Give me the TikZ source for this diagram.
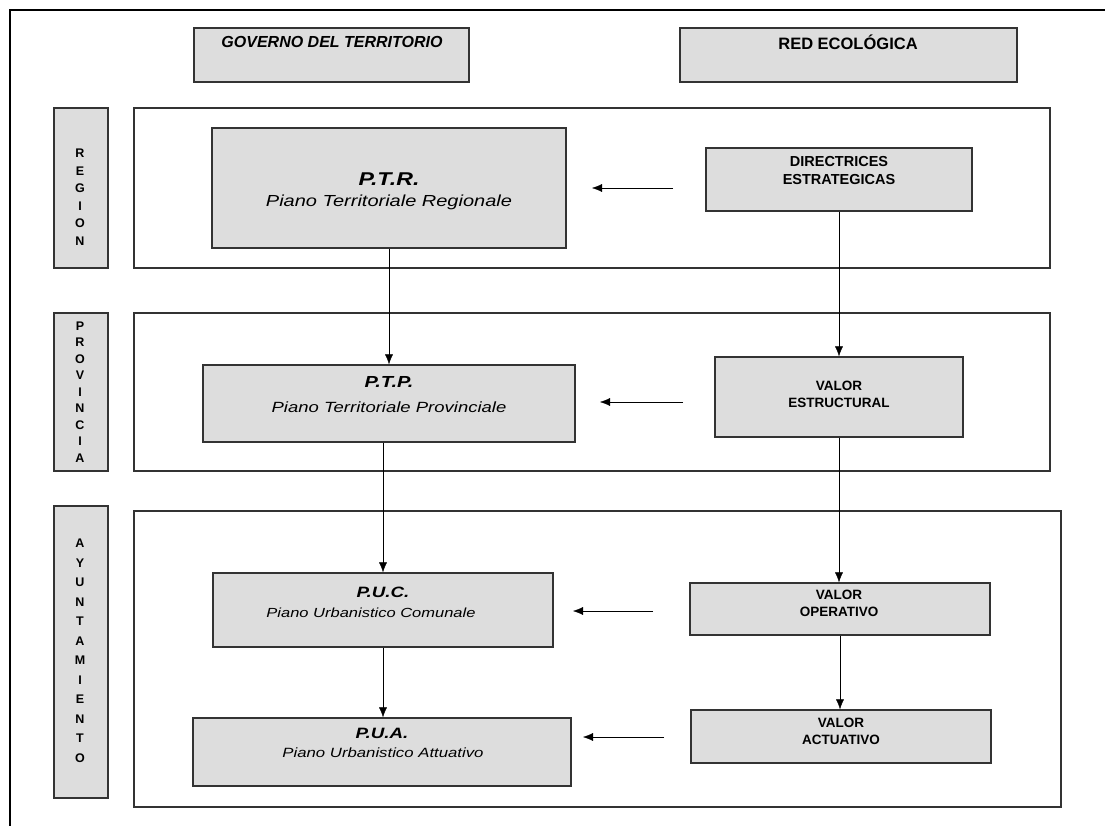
\documentclass[tikz,border=0pt]{standalone}
\usepackage{fontspec}
\setmainfont{Liberation Sans}
\newfontfamily\wideface[FakeStretch=1.25]{Liberation Sans}
\usetikzlibrary{arrows.meta}
\definecolor{boxgray}{HTML}{DDDDDD}
\definecolor{edgegray}{HTML}{333333}

\begin{document}
\begin{tikzpicture}[x=1pt,y=-1pt,>={Latex[length=10pt,width=8pt]},
		box/.style={rectangle,draw=edgegray,line width=1.3pt,fill=boxgray,inner sep=0pt},
		band/.style={rectangle,draw=edgegray,line width=1.3pt,fill=white,inner sep=0pt},
		head/.style={font=\bfseries\fontsize{16.5}{19}\selectfont},
		vlab/.style={align=center,inner sep=0pt},
		title/.style={font=\wideface\bfseries\itshape\fontsize{16}{19}\selectfont},
		subt/.style={font=\wideface\itshape\fontsize{14}{17}\selectfont},
		val/.style={align=center,font=\bfseries\fontsize{13.5}{17}\selectfont}]
		\useasboundingbox (0,0) rectangle (1105,826);
		\draw[line width=2.8pt] (10,826) -- (10,10) -- (1105,10);
		
		% headers
		\node[box,minimum width=275pt,minimum height=54pt] (gov) at (331.5,55) {};
		\node[box,minimum width=337pt,minimum height=54pt] (red) at (848.5,55) {};
		\node[head,font=\bfseries\itshape\fontsize{16}{19}\selectfont] (govtxt) at (332,42) {GOVERNO DEL TERRITORIO};
		\node[head] (redtxt) at (848,42) {RED ECOLÓGICA};
		
		% bands
		\node[band,minimum width=916pt,minimum height=160pt] (reg) at (592,188) {};
		\node[band,minimum width=916pt,minimum height=158pt] (prov) at (592,392) {};
		\node[band,minimum width=927pt,minimum height=296pt] (ayun) at (597.5,659) {};
		\node[box,minimum width=54pt,minimum height=160pt] (reglab) at (81,188) {};
		\node[box,minimum width=54pt,minimum height=158pt] (provlab) at (81,392) {};
		\node[box,minimum width=54pt,minimum height=292pt] (ayunlab) at (81,652) {};
		\node[vlab,font=\bfseries\fontsize{12.5}{17.5}\selectfont] (regtxt) at (80,197) {R\\E\\G\\I\\O\\N};
		\node[vlab,font=\bfseries\fontsize{12.5}{16.5}\selectfont] (provtxt) at (80,392) {P\\R\\O\\V\\I\\N\\C\\I\\A};
		\node[vlab,font=\bfseries\fontsize{12.5}{19.5}\selectfont] (ayuntxt) at (80,651) {A\\Y\\U\\N\\T\\A\\M\\I\\E\\N\\T\\O};
		
		% governo del territorio
		\node[box,minimum width=354pt,minimum height=120pt] (ptr) at (389,188) {};
		\node[box,minimum width=372pt,minimum height=77pt] (ptp) at (389,403.5) {};
		\node[box,minimum width=340pt,minimum height=74pt] (puc) at (383,610) {};
		\node[box,minimum width=378pt,minimum height=68pt] (pua) at (382,752) {};
		\node[title,font=\wideface\bfseries\itshape\fontsize{18.5}{21}\selectfont] (ptrt) at (389,179) {P.T.R.};
		\node[subt,font=\wideface\itshape\fontsize{16}{19}\selectfont] (ptrs) at (389,202) {Piano Territoriale Regionale};
		\node[title] (ptpt) at (389,382) {P.T.P.};
		\node[subt,font=\wideface\itshape\fontsize{14.8}{18}\selectfont] (ptps) at (389,407) {Piano Territoriale Provinciale};
		\node[title,font=\wideface\bfseries\itshape\fontsize{15}{18}\selectfont] (puct) at (383,592) {P.U.C.};
		\node[subt,font=\wideface\itshape\fontsize{13.2}{16}\selectfont] (pucs) at (371,613) {Piano Urbanistico Comunale};
		\node[title,font=\wideface\bfseries\itshape\fontsize{15}{18}\selectfont] (puat) at (382,733) {P.U.A.};
		\node[subt,font=\wideface\itshape\fontsize{13.4}{16}\selectfont] (puas) at (383,753) {Piano Urbanistico Attuativo};
		
		% red ecologica
		\node[box,minimum width=266pt,minimum height=63pt] (dir) at (839,179.5) {};
		\node[box,minimum width=248pt,minimum height=80pt] (estr) at (839,397) {};
		\node[box,minimum width=300pt,minimum height=52pt] (oper) at (840,609) {};
		\node[box,minimum width=300pt,minimum height=53pt] (act) at (841,736.5) {};
		\node[val,font=\bfseries\fontsize{14.5}{18}\selectfont] (dirtxt) at (839,171) {DIRECTRICES\\ESTRATEGICAS};
		\node[val] (estrtxt) at (839,394.5) {VALOR\\ESTRUCTURAL};
		\node[val] (opertxt) at (839,603.5) {VALOR\\OPERATIVO};
		\node[val] (acttxt) at (841,731) {VALOR\\ACTUATIVO};
		
		\coordinate (a1) at (673,188);  \coordinate (b1) at (592,188);
		\coordinate (a2) at (683,402);  \coordinate (b2) at (600,402);
		\coordinate (a3) at (653,611);  \coordinate (b3) at (573,611);
		\coordinate (a4) at (664,737);  \coordinate (b4) at (583,737);
		
		\draw[->] (ptr.south) -- (ptp.north);
		\draw[->] (ptp.south -| puc.north) -- (puc.north);
		\draw[->] (puc.south) -- (puc.south |- pua.north);
		\draw[->] (dir.south) -- (dir.south |- estr.north);
		\draw[->] (estr.south) -- (estr.south |- oper.north);
		\draw[->] (oper.south) -- (oper.south |- act.north);
		\draw[->] (a1) -- (b1);
		\draw[->] (a2) -- (b2);
		\draw[->] (a3) -- (b3);
		\draw[->] (a4) -- (b4);
\end{tikzpicture}
\end{document}
